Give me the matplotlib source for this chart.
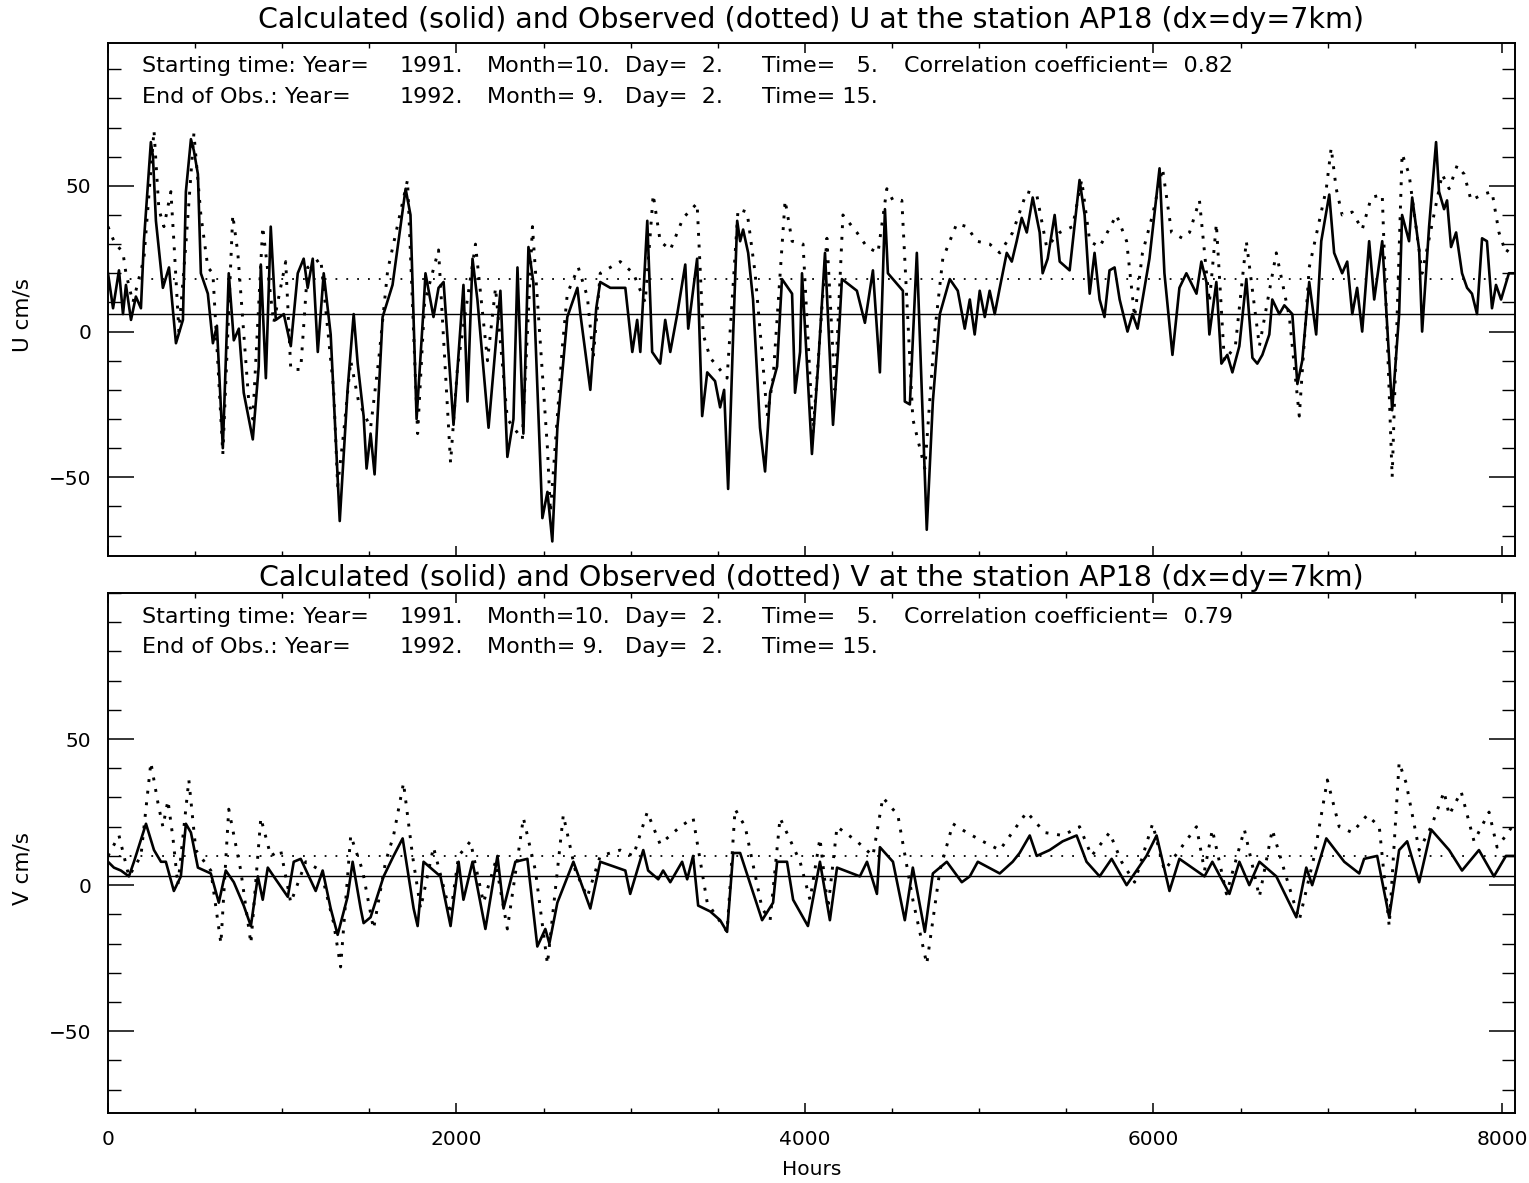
import matplotlib
matplotlib.use("Agg")
import matplotlib.pyplot as plt
from matplotlib.ticker import MultipleLocator, FixedLocator

# ---------------- data ----------------
u_calc_h = [0, 29, 63, 86, 103, 132, 160, 189, 206, 246, 258, 275, 315, 350, 390, 430, 447, 476, 493, 516,
            533, 573, 602, 625, 659, 693, 722, 751, 779, 831, 865, 877, 906, 934, 963, 1009, 1049, 1089, 1123,
            1146, 1175, 1204, 1238, 1278, 1330, 1375, 1410, 1433, 1467, 1484, 1507, 1530, 1576, 1633, 1708,
            1736, 1771, 1811, 1822, 1868, 1897, 1926, 1983, 2040, 2063, 2092, 2120, 2184, 2252, 2292, 2327,
            2350, 2384, 2413, 2441, 2493, 2522, 2550, 2579, 2636, 2694, 2711, 2768, 2802, 2825, 2883, 2969,
            3009, 3037, 3055, 3095, 3123, 3169, 3198, 3227, 3267, 3313, 3330, 3381, 3410, 3439, 3484, 3513,
            3536, 3559, 3588, 3611, 3628, 3645, 3674, 3702, 3742, 3771, 3800, 3840, 3868, 3926, 3943, 3972,
            3983, 4040, 4075, 4115, 4161, 4189, 4212, 4298, 4344, 4390, 4430, 4459, 4476, 4562, 4573, 4602,
            4642, 4699, 4734, 4774, 4831, 4877, 4917, 4946, 4974, 5003, 5032, 5060, 5089, 5118, 5158, 5187,
            5215, 5244, 5273, 5307, 5347, 5364, 5393, 5433, 5462, 5519, 5576, 5605, 5634, 5662, 5691, 5719,
            5748, 5777, 5806, 5851, 5880, 5909, 5977, 6035, 6063, 6109, 6149, 6189, 6247, 6275, 6304, 6321,
            6361, 6390, 6424, 6453, 6493, 6533, 6568, 6596, 6625, 6665, 6682, 6722, 6751, 6797, 6826, 6854,
            6894, 6934, 6963, 7009, 7037, 7083, 7112, 7141, 7169, 7198, 7238, 7267, 7313, 7370, 7410, 7427,
            7467, 7485, 7525, 7542, 7582, 7622, 7639, 7668, 7685, 7708, 7737, 7771, 7800, 7828, 7857, 7886,
            7914, 7943, 7966, 7995, 8040, 8070]
u_calc_v = [20, 8, 21, 6, 16, 4, 12, 8, 31, 65, 60, 38, 15, 22, -4, 4, 48, 66, 62, 54,
            20, 13, -4, 2, -40, 20, -3, 1, -21, -37, -12, 23, -16, 36, 4, 6, -5, 20, 25,
            15, 25, -7, 20, -1, -65, -20, 6, -11, -29, -47, -35, -49, 5, 16, 49,
            40, -30, 8, 20, 5, 15, 17, -32, 16, -24, 25, 11, -33, 14, -43, -30,
            22, -35, 29, 17, -64, -55, -72, -33, 5, 15, 6, -20, 8, 17, 15, 15,
            -7, 4, -7, 38, -7, -11, 4, -7, 6, 23, 1, 25, -29, -14, -17, -26,
            -20, -54, -1, 38, 31, 35, 27, 11, -33, -48, -21, -12, 18, 13, -21, -7,
            20, -42, -12, 27, -32, -7, 18, 14, 3, 21, -14, 42, 20, 14, -24, -25,
            27, -68, -24, 6, 18, 14, 1, 11, -1, 14, 5, 14, 6, 15, 27, 24,
            31, 39, 34, 46, 34, 20, 25, 40, 24, 21, 52, 40, 13, 27, 11, 5,
            21, 22, 11, 0, 6, 1, 25, 56, 20, -8, 15, 20, 13, 24, 17, -1,
            17, -11, -8, -14, -5, 18, -9, -11, -8, -1, 11, 6, 9, 6, -18, -10,
            17, -1, 31, 47, 27, 20, 24, 6, 15, 0, 31, 11, 31, -27, 6, 40,
            31, 46, 28, 0, 36, 65, 48, 42, 45, 29, 34, 20, 15, 13, 6, 32,
            31, 8, 16, 11, 20, 20]

u_obs_h = [0, 34, 86, 103, 143, 206, 264, 292, 321, 361, 378, 407, 447, 493, 533, 573, 602, 659, 716, 745,
           808, 831, 888, 951, 1020, 1049, 1106, 1146, 1221, 1295, 1318, 1352, 1393, 1438, 1507, 1553, 1605,
           1719, 1777, 1817, 1897, 1966, 2006, 2109, 2178, 2224, 2292, 2378, 2436, 2522, 2539, 2608, 2636,
           2699, 2751, 2785, 2825, 2940, 3015, 3083, 3129, 3169, 3227, 3301, 3381, 3416, 3456, 3553, 3616,
           3668, 3714, 3760, 3783, 3817, 3886, 3926, 3989, 4046, 4126, 4172, 4218, 4298, 4356, 4419, 4470,
           4505, 4556, 4619, 4688, 4745, 4791, 4871, 4929, 4986, 5060, 5118, 5192, 5273, 5330, 5387, 5462,
           5536, 5588, 5634, 5691, 5788, 5846, 5892, 5937, 5995, 6052, 6104, 6167, 6207, 6264, 6321, 6361,
           6407, 6470, 6533, 6608, 6705, 6780, 6837, 6894, 6992, 7020, 7049, 7083, 7141, 7198, 7250, 7313,
           7370, 7427, 7467, 7542, 7657, 7697, 7743, 7783, 7823, 7886, 7943, 7983, 8023, 8058]
u_obs_v = [36, 31, 27, 20, 10, 25, 69, 42, 36, 48, 31, 0, 30, 68, 40, 22, 20, -42, 40, 27,
           -24, -30, 36, 3, 24, -13, -13, 22, 25, -20, -53, -35, -10, -24, -33, -10, 21,
           52, -35, 10, 28, -45, -12, 30, -10, 15, -30, -37, 36, -40, -62, -5, 13,
           22, 12, -9, 20, 24, 20, 10, 47, 31, 28, 39, 44, -1, -9, -16, 42,
           41, 20, -12, -29, -16, 45, 31, 30, -35, 32, -20, 40, 34, 29, 27, 49,
           45, 45, -30, -47, 0, 25, 37, 36, 31, 30, 27, 34, 48, 47, 29, 34,
           36, 52, 31, 29, 40, 31, 5, 27, 40, 56, 34, 32, 34, 45, 10, 37,
           -10, -5, 31, -5, 27, 5, -29, 22, 49, 63, 49, 40, 41, 35, 46, 47,
           -50, 61, 54, 20, 54, 49, 57, 54, 45, 47, 48, 34, 27, 30]

v_calc_h = [0, 34, 74, 120, 149, 218, 264, 304, 332, 378, 418, 447, 476, 516, 590, 636, 676, 722, 779, 820,
            860, 888, 917, 951, 1032, 1066, 1106, 1192, 1232, 1278, 1318, 1375, 1404, 1450, 1467, 1507, 1582,
            1639, 1691, 1754, 1777, 1811, 1908, 1966, 2012, 2040, 2092, 2166, 2235, 2270, 2338, 2407, 2464,
            2510, 2533, 2579, 2671, 2768, 2825, 2969, 2997, 3072, 3100, 3158, 3186, 3227, 3295, 3324, 3358,
            3387, 3456, 3513, 3553, 3588, 3628, 3754, 3817, 3840, 3897, 3932, 4017, 4086, 4143, 4184, 4315,
            4356, 4413, 4430, 4505, 4573, 4619, 4688, 4734, 4814, 4900, 4946, 4992, 5118, 5192, 5232, 5290,
            5330, 5404, 5479, 5559, 5616, 5691, 5760, 5846, 5960, 6018, 6092, 6149, 6293, 6338, 6436, 6493,
            6550, 6608, 6705, 6820, 6877, 6911, 6992, 7095, 7181, 7209, 7284, 7353, 7410, 7456, 7525, 7594,
            7697, 7771, 7868, 7954, 8023, 8070]
v_calc_v = [8, 6, 5, 3, 8, 21, 12, 8, 8, -2, 3, 21, 18, 6, 4, -6, 5, 1, -7, -14,
            3, -5, 6, 3, -4, 8, 9, -2, 5, -8, -17, -4, 8, -8, -13, -11, 3,
            10, 16, -8, -14, 8, 3, -14, 8, -5, 8, -15, 10, -8, 8, 9, -21,
            -15, -20, -6, 8, -8, 8, 5, -3, 12, 5, 2, 5, 1, 8, 2, 10,
            -7, -9, -12, -16, 11, 11, -12, -6, 8, 8, -5, -14, 8, -12, 6, 3,
            8, -3, 13, 8, -12, 6, -16, 4, 8, 1, 3, 8, 4, 8, 11, 17,
            10, 12, 15, 17, 8, 3, 9, 0, 10, 17, -2, 9, 3, 8, -3, 8,
            0, 8, 3, -11, 6, 0, 16, 8, 4, 9, 10, -11, 12, 15, 1, 19,
            12, 5, 12, 3, 10, 10]

v_obs_h = [0, 63, 120, 189, 246, 287, 315, 344, 373, 401, 464, 504, 590, 648, 693, 762, 820, 877, 934, 991,
           1049, 1135, 1221, 1295, 1335, 1393, 1461, 1524, 1593, 1639, 1696, 1748, 1794, 1868, 1966, 2012,
           2080, 2155, 2224, 2292, 2384, 2453, 2522, 2613, 2682, 2751, 2825, 2940, 3015, 3095, 3169, 3284,
           3358, 3439, 3553, 3599, 3657, 3754, 3800, 3857, 3972, 4029, 4086, 4132, 4184, 4298, 4390, 4447,
           4533, 4619, 4699, 4774, 4849, 4929, 5020, 5118, 5273, 5376, 5479, 5576, 5645, 5748, 5817, 5892,
           5995, 6063, 6149, 6247, 6293, 6338, 6419, 6522, 6608, 6682, 6751, 6837, 6923, 6998, 7066, 7141,
           7227, 7296, 7353, 7410, 7450, 7525, 7594, 7668, 7697, 7766, 7840, 7926, 7972, 8023, 8058]
v_obs_v = [10, 17, 3, 10, 42, 28, 20, 29, 16, 0, 36, 12, 5, -20, 26, 5, -20, 23, 10, 12,
           -6, 8, 5, -13, -28, 17, 5, -15, 8, 17, 35, 10, -8, 13, -10, 10,
           15, -6, 8, -15, 23, 5, -27, 24, 5, -4, 10, 12, 10, 25, 14, 20,
           23, -6, -16, 26, 20, -8, -12, 23, 8, -5, 16, -8, 20, 15, 10, 30,
           24, -5, -27, 5, 21, 18, 15, 12, 25, 18, 17, 20, 10, 18, 8, 1,
           21, 5, 12, 20, 5, 19, -3, 19, -4, 19, 5, -12, 10, 36, 20, 18,
           24, 20, -14, 42, 35, 12, 20, 32, 24, 32, 15, 25, 13, 17, 20]

# mean levels (horizontal reference lines)
u_mean_calc, u_mean_obs = 6, 18
v_mean_calc, v_mean_obs = 3, 10

titles = ["Calculated (solid) and Observed (dotted) U at the station AP18 (dx=dy=7km)",
          "Calculated (solid) and Observed (dotted) V at the station AP18 (dx=dy=7km)"]
ylabels = ["U cm/s", "V cm/s"]
corr = ["0.82", "0.79"]
line1 = ["Starting time: Year=", "1991.", "Month=10.", "Day=  2.", "Time=   5.", "Correlation coefficient="]
line2 = ["End of Obs.: Year=", "1992.", "Month= 9.", "Day=  2.", "Time= 15."]
xticks = [0, 2000, 4000, 6000, 8000]
yticks = [-50, 0, 50]

# ---------------- figure ----------------
W, H = 1529, 1183
plt.rcParams['font.family'] = ['DejaVu Sans']
fig = plt.figure(figsize=(W / 100, H / 100), dpi=100)

def fx(px):
    return px / W

def fy(py):
    return 1 - py / H

axes_px = [(108, 43, 1515, 556), (108, 593, 1515, 1113)]
ylims = [(-77, 99), (-78, 100)]
title_pads = [11, 5]
text_y = [(0.956, 0.894), (0.954, 0.896)]
series = [(u_calc_h, u_calc_v, u_obs_h, u_obs_v, u_mean_calc, u_mean_obs),
          (v_calc_h, v_calc_v, v_obs_h, v_obs_v, v_mean_calc, v_mean_obs)]
seg_x = [0.0245, 0.2075, 0.2694, 0.3674, 0.4648, 0.5657]

for i in range(2):
    l, t, r, b = axes_px[i]
    ax = fig.add_axes([fx(l), fy(b), (r - l) / W, (b - t) / H])
    ch, cv, oh, ov, mc, mo = series[i]
    ax.plot(ch, cv, color='black', lw=1.9, solid_joinstyle='round')
    ax.plot(oh, ov, color='black', lw=2.1, linestyle=(0, (1, 3)), dash_capstyle='butt')
    ax.axhline(mc, color='black', lw=1.0)
    ax.axhline(mo, color='black', lw=1.3, linestyle=(0, (1, 5)))
    ax.set_xlim(0, 8075)
    ax.set_ylim(*ylims[i])
    ax.xaxis.set_major_locator(FixedLocator(xticks))
    ax.xaxis.set_minor_locator(MultipleLocator(500))
    ax.yaxis.set_major_locator(FixedLocator(yticks))
    ax.yaxis.set_minor_locator(MultipleLocator(10))
    ax.tick_params(axis='x', which='major', direction='in', length=7, width=1.1, top=True, bottom=True)
    ax.tick_params(axis='x', which='minor', direction='in', length=3.5, width=1.0, top=True, bottom=True)
    ax.tick_params(axis='y', which='major', direction='in', length=19, width=1.1, left=True, right=True)
    ax.tick_params(axis='y', which='minor', direction='in', length=9.5, width=1.0, left=True, right=True)
    ax.tick_params(labelsize=14.5, pad=12)
    for s in ax.spines.values():
        s.set_linewidth(1.4)
    if i == 0:
        ax.tick_params(axis='x', labelbottom=False)
    else:
        ax.set_xlabel("Hours", fontsize=14.5, labelpad=8)
    ax.set_ylabel(ylabels[i], fontsize=15.5)
    ax.yaxis.set_label_coords(-0.054, 0.47)
    ax.set_title(titles[i], fontsize=20.5, pad=title_pads[i])
    y1, y2 = text_y[i]
    for k, txt in enumerate(line1):
        ax.text(seg_x[k], y1, txt if k < 5 else txt + "  " + corr[i], transform=ax.transAxes,
                fontsize=16, va='center', ha='left')
    for k, txt in enumerate(line2):
        ax.text(seg_x[k], y2, txt, transform=ax.transAxes, fontsize=16, va='center', ha='left')

fig.savefig("out.png", dpi=100)
